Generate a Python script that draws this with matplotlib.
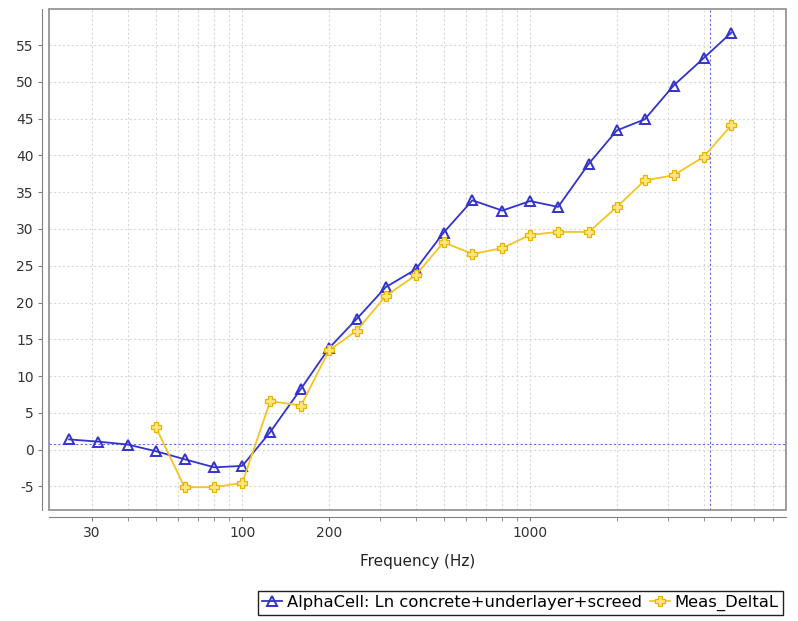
import numpy as np
import matplotlib.pyplot as plt
from matplotlib.patches import Rectangle
from matplotlib.ticker import FixedLocator, NullFormatter

plt.rcParams['axes.unicode_minus'] = False

# third-octave bands (Hz)
freq = [25, 31.5, 40, 50, 63, 80, 100, 125, 160, 200, 250, 315, 400, 500,
        630, 800, 1000, 1250, 1600, 2000, 2500, 3150, 4000, 5000]
alphacell = [1.4, 1.1, 0.7, -0.2, -1.3, -2.4, -2.2, 2.4, 8.3, 13.8, 17.8, 22.1,
             24.5, 29.5, 33.9, 32.5, 33.8, 33.0, 38.9, 43.4, 44.9, 49.5, 53.2, 56.7]
meas_freq = freq[3:]
meas = [3.1, -5.1, -5.1, -4.5, 6.6, 6.0, 13.5, 16.2, 20.9, 23.7, 28.2, 26.6,
        27.4, 29.2, 29.6, 29.6, 33.0, 36.6, 37.3, 39.8, 44.1]

labels = ['AlphaCell: Ln concrete+underlayer+screed', 'Meas_DeltaL']
x_major = [30, 100, 200, 1000]
x_minor = [40, 50, 60, 70, 80, 90, 300, 400, 500, 600, 700, 800, 900,
           2000, 3000, 4000, 5000, 6000, 7000]
y_ticks = list(range(-5, 60, 5))
cross_x, cross_y = 4220, 0.84

BLUE = '#3333cc'
YELLOW = '#f2c522'

fig = plt.figure(figsize=(7.98, 6.21), dpi=100)
ax = fig.add_axes([0.0614, 0.1787, 0.9236, 0.8068])

ax.set_xscale('log')
ax.set_xlim(21.3, 7740)
ax.set_ylim(-8.2, 59.9)

ax.xaxis.set_major_locator(FixedLocator(x_major))
ax.xaxis.set_minor_locator(FixedLocator(x_minor))
ax.xaxis.set_minor_formatter(NullFormatter())
ax.set_xticklabels([str(v) for v in x_major])
ax.set_yticks(y_ticks)

ax.set_axisbelow(True)
ax.grid(which='both', color='#d9d9d9', linestyle=(0, (2, 2)), linewidth=0.8)

# crosshair
ax.axhline(cross_y, color='#6666dd', linestyle=(0, (2, 2)), linewidth=0.8)
ax.axvline(cross_x, color='#6666dd', linestyle=(0, (2, 2)), linewidth=0.8)

ax.plot(freq, alphacell, color=BLUE, linewidth=1.3, marker='^', markersize=7,
        markerfacecolor='none', markeredgecolor=BLUE, markeredgewidth=1.4,
        label=labels[0])
ax.plot(meas_freq, meas, color=YELLOW, linewidth=1.3, marker='P', markersize=7.5,
        markerfacecolor='#ffe680', markeredgecolor='#e8b400', markeredgewidth=0.9,
        label=labels[1])

# plot border + offset axis lines
for s in ['top', 'right']:
    ax.spines[s].set_visible(False)
ax.spines['left'].set_position(('outward', 5))
ax.spines['bottom'].set_position(('outward', 5))
ax.spines['left'].set_color('#808080')
ax.spines['bottom'].set_color('#808080')
ax.add_patch(Rectangle((0, 0), 1, 1, transform=ax.transAxes, fill=False,
                       edgecolor='#8c8c8c', linewidth=1.2, clip_on=False, zorder=5))

ax.tick_params(which='both', direction='out', length=3, color='#808080',
               labelsize=10, labelcolor='#333333')
ax.tick_params(axis='y', pad=3)
ax.set_xlabel('Frequency (Hz)', fontsize=11, color='#222222', labelpad=10)

fig.legend(loc='upper left', bbox_to_anchor=(258 / 798, 1 - 591 / 621), ncol=2,
           fontsize=11.8, frameon=True, fancybox=False, edgecolor='#222222',
           framealpha=1, handlelength=1.2, handletextpad=0.3, columnspacing=0.5,
           borderpad=0.25, borderaxespad=0)

fig.savefig('out.png', dpi=100, facecolor='white')
